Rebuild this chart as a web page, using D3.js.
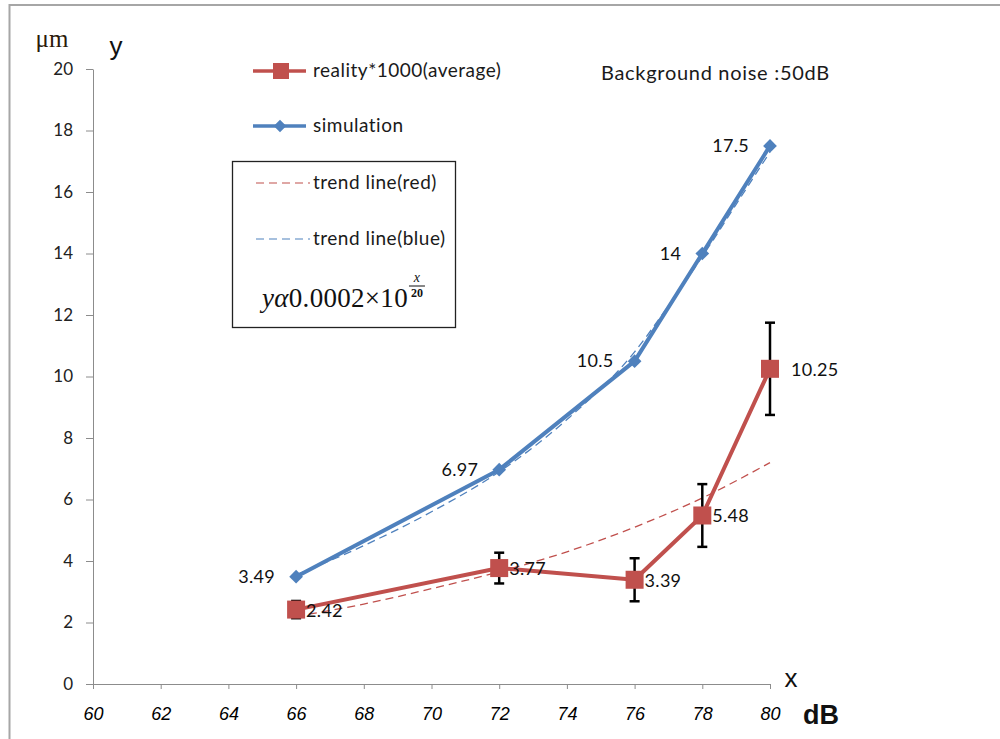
<!DOCTYPE html>
<html lang="en">
<head>
<meta charset="UTF-8">
<title>Chart</title>
<style>
  body { margin: 0; background: #fff; }
  svg { display: block; }
</style>
</head>
<body>
<script src="https://d3js.org/d3.v7.min.js"></script>
<script>
// data
let xValues = [66, 72, 76, 78, 80];
let realityValues = [2.42, 3.77, 3.39, 5.48, 10.25];
let realityErrors = [0.28, 0.5, 0.7, 1.02, 1.5];
let simulationValues = [3.49, 6.97, 10.5, 14, 17.5];

let trendRedX = [66, 68, 70, 72, 74, 76, 78, 80];
let trendRedY = [2.2, 2.6, 3.1, 3.65, 4.3, 5.1, 6.05, 7.2];
let trendBlueX = [66, 68, 70, 72, 74, 76, 77, 78, 79, 80];
let trendBlueY = [3.55, 4.5, 5.6, 6.9, 8.6, 10.8, 12.3, 13.9, 15.6, 17.3];

let xTicks = [60, 62, 64, 66, 68, 70, 72, 74, 76, 78, 80];
let yTicks = [0, 2, 4, 6, 8, 10, 12, 14, 16, 18, 20];

let red = "#c0504d";
let blue = "#4f81bd";
let txtFont = "Lato, 'Open Sans', sans-serif";

let svg = d3.select("body").append("svg")
  .attr("width", 1000)
  .attr("height", 739);

// outer frame (left and top edges)
svg.append("path")
  .attr("d", "M9.5,739 V5 H1000")
  .attr("fill", "none")
  .attr("stroke", "#a6a6a6")
  .attr("stroke-width", 2);

let x = d3.scaleLinear().domain([60, 80]).range([93, 770]);
let y = d3.scaleLinear().domain([0, 20]).range([684, 69]);

// axes
let xAxis = svg.append("g")
  .attr("transform", "translate(0,684)")
  .call(d3.axisBottom(x).tickValues(xTicks).tickSize(5).tickSizeOuter(0));
xAxis.select(".domain").attr("stroke", "#8c8c8c");
xAxis.selectAll(".tick line").attr("stroke", "#8c8c8c");
xAxis.selectAll("text")
  .attr("y", 23)
  .attr("fill", "#000")
  .style("font-family", "'Liberation Sans Narrow', 'Liberation Sans', Arial, sans-serif")
  .style("font-size", "18px")
  .style("font-style", "italic");

let yAxis = svg.append("g")
  .attr("transform", "translate(93,0)")
  .call(d3.axisLeft(y).tickValues(yTicks).tickSize(7).tickSizeOuter(0));
yAxis.select(".domain").attr("stroke", "#8c8c8c");
yAxis.selectAll(".tick line").attr("stroke", "#8c8c8c");
yAxis.selectAll("text")
  .attr("x", -20)
  .attr("fill", "#222")
  .style("font-family", txtFont)
  .style("font-size", "17px");

// axis titles
svg.append("text").attr("x", 52).attr("y", 47).attr("text-anchor", "middle")
  .style("font-family", "'Liberation Serif', serif").style("font-size", "25px")
  .attr("fill", "#2b1a0a").text("μm");
svg.append("text").attr("x", 116).attr("y", 55).attr("text-anchor", "middle")
  .style("font-family", "'Liberation Sans', Arial, sans-serif").style("font-size", "26px")
  .attr("fill", "#111").text("y");
svg.append("text").attr("x", 791).attr("y", 687).attr("text-anchor", "middle")
  .style("font-family", "'Liberation Sans', Arial, sans-serif").style("font-size", "26px")
  .attr("fill", "#111").text("x");
svg.append("text").attr("x", 821).attr("y", 724).attr("text-anchor", "middle")
  .style("font-family", "'Liberation Sans', Arial, sans-serif").style("font-size", "27px")
  .style("font-weight", "bold").attr("fill", "#111").text("dB");

// trend lines
let trendLine = d3.line().x(d => x(d[0])).y(d => y(d[1])).curve(d3.curveMonotoneX);
svg.append("path")
  .attr("d", trendLine(d3.zip(trendRedX, trendRedY)))
  .attr("fill", "none").attr("stroke", red).attr("stroke-width", 1.3)
  .attr("stroke-dasharray", "8,5");
svg.append("path")
  .attr("d", trendLine(d3.zip(trendBlueX, trendBlueY)))
  .attr("fill", "none").attr("stroke", blue).attr("stroke-width", 1.3)
  .attr("stroke-dasharray", "8,5");

// series lines
let line = d3.line().x(d => x(d[0])).y(d => y(d[1]));
svg.append("path")
  .attr("d", line(d3.zip(xValues, simulationValues)))
  .attr("fill", "none").attr("stroke", blue).attr("stroke-width", 4)
  .attr("stroke-linejoin", "round");
svg.append("path")
  .attr("d", line(d3.zip(xValues, realityValues)))
  .attr("fill", "none").attr("stroke", red).attr("stroke-width", 4)
  .attr("stroke-linejoin", "round");

// error bars
let err = svg.append("g");
xValues.forEach((xv, i) => {
  let top = y(realityValues[i] + realityErrors[i]);
  let bot = y(realityValues[i] - realityErrors[i]);
  let cx = x(xv);
  err.append("line").attr("x1", cx).attr("x2", cx).attr("y1", top).attr("y2", bot)
    .attr("stroke", "#000").attr("stroke-width", 2.5);
  [top, bot].forEach(v => err.append("line")
    .attr("x1", cx - 5).attr("x2", cx + 5).attr("y1", v).attr("y2", v)
    .attr("stroke", "#000").attr("stroke-width", 2.5));
});

// markers
svg.selectAll(".sq").data(d3.zip(xValues, realityValues)).enter()
  .append("rect")
  .attr("x", d => x(d[0]) - 9).attr("y", d => y(d[1]) - 9)
  .attr("width", 18).attr("height", 18).attr("fill", red);
svg.selectAll(".dia").data(d3.zip(xValues, simulationValues)).enter()
  .append("path")
  .attr("d", d3.symbol(d3.symbolDiamond2, 120))
  .attr("transform", d => `translate(${x(d[0])},${y(d[1])})`)
  .attr("fill", blue);

// data labels
svg.selectAll(".lb").data(d3.zip(xValues, simulationValues)).enter()
  .append("text")
  .attr("x", d => x(d[0]) - 21).attr("y", d => y(d[1]) + 6)
  .attr("text-anchor", "end")
  .style("font-family", txtFont).style("font-size", "18px").attr("fill", "#111")
  .style("letter-spacing", "0.3px")
  .text(d => d[1]);
svg.selectAll(".lr").data(d3.zip(xValues, realityValues)).enter()
  .append("text")
  .attr("x", d => x(d[0]) + (d[0] === 80 ? 21 : 10)).attr("y", d => y(d[1]) + 7)
  .style("font-family", txtFont).style("font-size", "18px").attr("fill", "#111")
  .style("letter-spacing", "0.3px")
  .text(d => d[1]);

// legend
let leg = svg.append("g");
let legText = (tx, ty, s) => leg.append("text").attr("x", tx).attr("y", ty).text(s)
  .style("font-family", txtFont).style("font-size", "19px")
  .style("letter-spacing", "0.5px").attr("fill", "#1a1a1a");
leg.append("line").attr("x1", 253).attr("x2", 306).attr("y1", 71).attr("y2", 71)
  .attr("stroke", red).attr("stroke-width", 3.5);
leg.append("rect").attr("x", 273).attr("y", 63).attr("width", 16).attr("height", 16).attr("fill", red);
legText(313, 77, "reality*1000(average)");
leg.append("line").attr("x1", 253).attr("x2", 306).attr("y1", 126).attr("y2", 126)
  .attr("stroke", blue).attr("stroke-width", 3.5);
leg.append("path").attr("d", d3.symbol(d3.symbolDiamond2, 100))
  .attr("transform", "translate(280,126)").attr("fill", blue);
legText(313, 132, "simulation");

// trend line box
leg.append("rect").attr("x", 232.5).attr("y", 161.5).attr("width", 223).attr("height", 166)
  .attr("fill", "#fff").attr("stroke", "#222").attr("stroke-width", 1.3);
leg.append("line").attr("x1", 256).attr("x2", 310).attr("y1", 183).attr("y2", 183)
  .attr("stroke", red).attr("stroke-width", 1.2).attr("stroke-dasharray", "8,5");
legText(313, 189, "trend line(red)");
leg.append("line").attr("x1", 256).attr("x2", 310).attr("y1", 239).attr("y2", 239)
  .attr("stroke", blue).attr("stroke-width", 1.2).attr("stroke-dasharray", "8,5");
legText(313, 245, "trend line(blue)");

// formula
let f = leg.append("text").attr("x", 262).attr("y", 307)
  .style("font-family", "'Liberation Serif', serif").style("font-size", "27px")
  .style("letter-spacing", "0.3px").attr("fill", "#111");
f.append("tspan").style("font-style", "italic").text("y");
f.append("tspan").style("font-style", "italic").text("α");
f.append("tspan").text("0.0002×10");
let fEnd = 262 + f.node().getComputedTextLength();
let fx = fEnd + 9;
leg.append("text").attr("x", fx).attr("y", 282).attr("text-anchor", "middle")
  .style("font-family", "'Liberation Serif', serif").style("font-size", "14px")
  .style("font-style", "italic").attr("fill", "#111").text("x");
leg.append("line").attr("x1", fx - 8).attr("x2", fx + 8).attr("y1", 286).attr("y2", 286)
  .attr("stroke", "#111").attr("stroke-width", 1);
leg.append("text").attr("x", fx).attr("y", 297).attr("text-anchor", "middle")
  .style("font-family", "'Liberation Serif', serif").style("font-size", "12px")
  .style("font-weight", "bold").attr("fill", "#111").text("20");

// note
svg.append("text").attr("x", 601).attr("y", 80).text("Background noise :50dB")
  .style("font-family", txtFont).style("font-size", "20px")
  .style("letter-spacing", "0.7px").attr("fill", "#1a1a1a");
</script>
</body>
</html>
